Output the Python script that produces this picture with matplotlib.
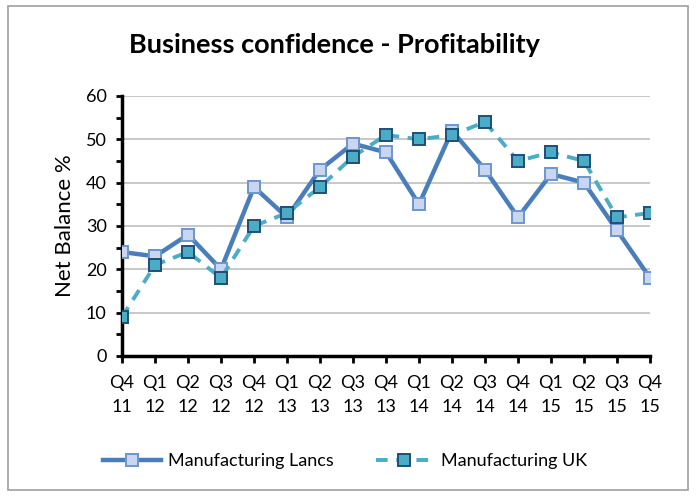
import matplotlib.pyplot as plt
from matplotlib.patches import Rectangle
from matplotlib.ticker import MultipleLocator

plt.rcParams['font.family'] = ['Lato', 'DejaVu Sans']

quarters = ['Q4\n11', 'Q1\n12', 'Q2\n12', 'Q3\n12', 'Q4\n12', 'Q1\n13', 'Q2\n13', 'Q3\n13', 'Q4\n13',
            'Q1\n14', 'Q2\n14', 'Q3\n14', 'Q4\n14', 'Q1\n15', 'Q2\n15', 'Q3\n15', 'Q4\n15']
lancs = [24, 23, 28, 20, 39, 32, 43, 49, 47, 35, 52, 43, 32, 42, 40, 29, 18]
uk = [9, 21, 24, 18, 30, 33, 39, 46, 51, 50, 51, 54, 45, 47, 45, 32, 33]

fig = plt.figure(figsize=(6.96, 4.96), dpi=100)
# outer chart border
fig.patches.append(Rectangle((8 / 696, 6 / 496), 680 / 696, 484 / 496, transform=fig.transFigure,
                             fill=False, edgecolor='#a0a0a0', linewidth=1.2))

ax = fig.add_axes([122 / 696, 1 - 356 / 496, 528 / 696, 260 / 496])
x = range(len(quarters))

ax.plot(x, lancs, color='#4a7ebb', linewidth=3.2, marker='s', markersize=8,
        markerfacecolor='#c9d6ef', markeredgecolor='#6d96cf', markeredgewidth=1.4,
        label='Manufacturing Lancs', zorder=3)
ax.plot(x, uk, color='#4bacc6', linewidth=2.8, linestyle=(0, (3, 2.2)), marker='s', markersize=8,
        markerfacecolor='#4bacc6', markeredgecolor='#1f4e79', markeredgewidth=1.4,
        label='Manufacturing UK', zorder=4)

ax.set_xlim(0, len(quarters) - 1)
ax.set_ylim(0, 60)
ax.set_xticks(list(x))
ax.set_xticklabels(quarters, fontsize=13, linespacing=1.6)
ax.yaxis.set_major_locator(MultipleLocator(10))
ax.yaxis.set_minor_locator(MultipleLocator(5))
ax.tick_params(axis='y', which='both', direction='out', length=4, width=2, labelsize=13, pad=7)
ax.tick_params(axis='x', direction='out', length=5, width=2, pad=9)
ax.grid(axis='y', color='#bfbfbf', linewidth=1.2)
ax.set_axisbelow(True)

for side in ['top', 'right']:
    ax.spines[side].set_visible(False)
for side in ['left', 'bottom']:
    ax.spines[side].set_linewidth(2.5)
    ax.spines[side].set_color('black')

ax.set_ylabel('Net Balance %', fontsize=16, labelpad=8)
fig.text(334 / 696, 1 - 45 / 496, 'Business confidence - Profitability', fontsize=19.5,
         fontweight='bold', ha='center', va='center')

fig.legend(loc='center', bbox_to_anchor=(345 / 696, 1 - 461 / 496), ncol=2, frameon=False,
           fontsize=13, handlelength=3.2, columnspacing=2.3, handletextpad=0.4)

fig.savefig('out.png', dpi=100)
